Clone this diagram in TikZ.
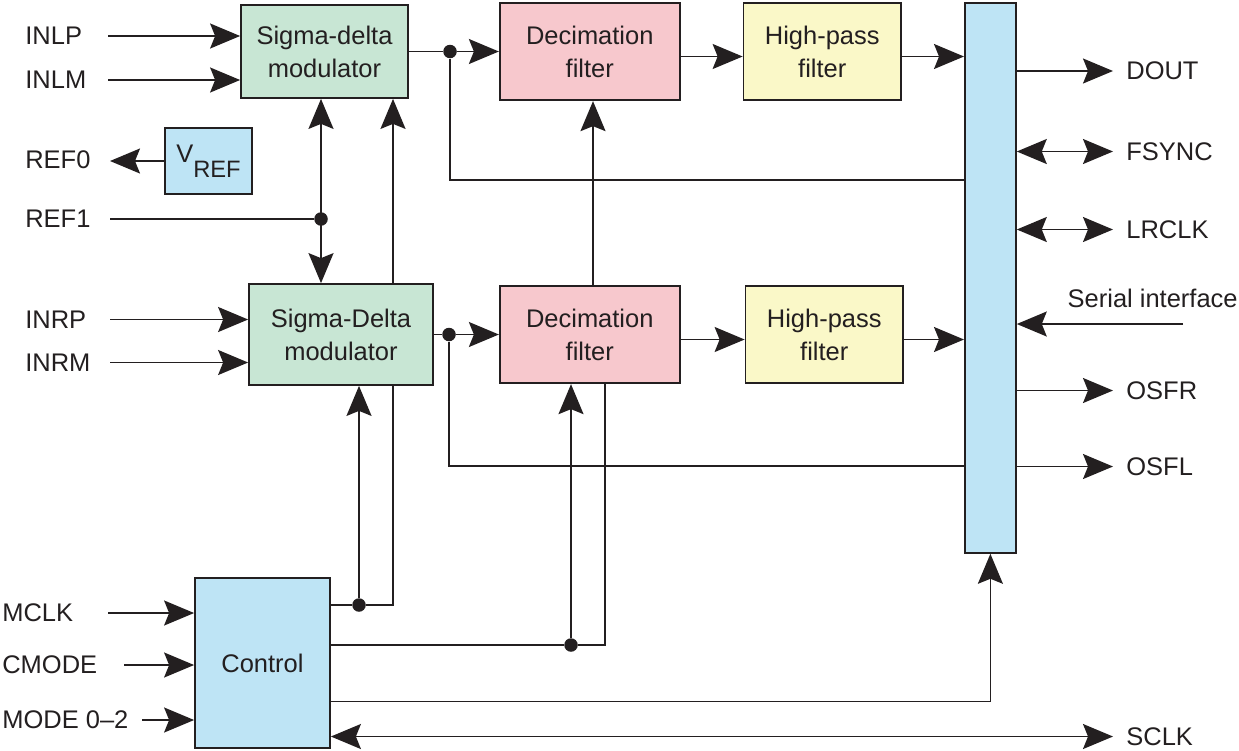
\documentclass[tikz,border=0pt]{standalone}
\usepackage{fontspec}
\setmainfont{Liberation Sans}
\usepackage{tikz}
\usetikzlibrary{arrows.meta, positioning, calc}
\definecolor{sdmgreen}{RGB}{200, 230, 212}
\definecolor{decpink}{RGB}{247, 200, 205}
\definecolor{hpyellow}{RGB}{250, 248, 200}
\definecolor{ifblue}{RGB}{190, 228, 245}
\definecolor{inkline}{RGB}{35, 31, 32}

\begin{document}
\begin{tikzpicture}[
        % --- TikZ Styles ---
        font=\fontsize{14.5}{18.8}\selectfont,
        >={Stealth[length=0.6cm, width=0.5cm, inset=0.1cm]},
        basebox/.style={
            draw=inkline, line width=1pt, align=center, inner sep=2pt,
            text=inkline
        },
        sdmbox/.style={basebox, fill=sdmgreen},
        decbox/.style={basebox, fill=decpink, minimum width=3.6cm, minimum height=1.95cm},
        hpbox/.style={basebox, fill=hpyellow, minimum width=3.15cm, minimum height=1.95cm},
        bluebox/.style={basebox, fill=ifblue},
        pin/.style={inner sep=0pt, text=inkline},
        wire/.style={line width=1pt, draw=inkline},
        thinwire/.style={line width=0.75pt, draw=inkline},
        arrow/.style={wire, ->},
        dblarrow/.style={wire, <->},
        junction/.style={circle, fill=inkline, inner sep=0pt, minimum size=0.27cm}
    ]

    \useasboundingbox (0,0) rectangle (24.78,-15);

    % --- 1. LEFT CHANNEL ---
    \node[sdmbox, minimum width=3.34cm, minimum height=1.86cm] (sdmL) at (6.49,-1.03) {Sigma-delta\\modulator};
    \node[decbox, right=1.8cm of sdmL] (decL) {Decimation\\filter};
    \node[hpbox, right=1.24cm of decL] (hpL) {High-pass\\filter};

    \node[bluebox, minimum width=1.74cm, minimum height=1.32cm] (vref) at (4.17,-3.22) {V\raisebox{-8.5pt}{\fontsize{13.5}{14}\selectfont REF}};

    % --- 2. RIGHT CHANNEL ---
    \node[sdmbox, minimum width=3.68cm, minimum height=2.02cm] (sdmR) at (6.82,-6.69) {Sigma-Delta\\modulator};
    \node[decbox, right=1.3cm of sdmR] (decR) {Decimation\\filter};
    \node[hpbox, right=1.28cm of decR] (hpR) {High-pass\\filter};

    % --- 3. INTERFACE AND CONTROL ---
    \node[bluebox, minimum width=1.02cm, minimum height=11cm, anchor=north west] (bus) at (19.28,-0.04) {};
    \node[bluebox, minimum width=2.7cm, minimum height=3.4cm] (ctrl) at (5.25,-13.26) {Control};

    % --- PINS ---
    \node[pin, anchor=west] (inlp) at (0.5,-0.72) {INLP};
    \node[pin, anchor=west] (inlm) at (0.5,-1.6) {INLM};
    \node[pin, anchor=west] (ref0) at (0.5,-3.2) {REF0};
    \node[pin, anchor=west] (ref1) at (0.5,-4.38) {REF1};
    \node[pin, anchor=west] (inrp) at (0.5,-6.39) {INRP};
    \node[pin, anchor=west] (inrm) at (0.5,-7.25) {INRM};
    \node[pin, anchor=west] (mclk) at (0.04,-12.26) {MCLK};
    \node[pin, anchor=west] (cmode) at (0.04,-13.3) {CMODE};
    \node[pin, anchor=west] (mode) at (0.04,-14.4) {MODE 0--2};

    \node[pin, anchor=west] (dout) at (22.52,-1.42) {DOUT};
    \node[pin, anchor=west] (fsync) at (22.52,-3.03) {FSYNC};
    \node[pin, anchor=west] (lrclk) at (22.52,-4.59) {LRCLK};
    \node[pin, anchor=east] (serial) at (24.76,-5.96) {Serial interface};
    \node[pin, anchor=west] (osfr) at (22.52,-7.81) {OSFR};
    \node[pin, anchor=west] (osfl) at (22.52,-9.33) {OSFL};
    \node[pin, anchor=west] (sclk) at (22.52,-14.73) {SCLK};

    % --- CONNECTIONS ---

    % Inputs to the modulators
    \draw[arrow] ([xshift=1.66cm]inlp.west) -- (sdmL.west |- inlp.west);
    \draw[arrow] ([xshift=1.66cm]inlm.west) -- (sdmL.west |- inlm.west);
    \draw[arrow] ([xshift=1.7cm]inrp.west) -- (sdmR.west |- inrp.west);
    \draw[arrow] ([xshift=1.7cm]inrm.west) -- (sdmR.west |- inrm.west);

    % Reference
    \draw[arrow] (vref.west) -- ([xshift=1.7cm]ref0.west |- vref.west);
    \coordinate (refx) at (6.42,0);
    \draw[dblarrow] (sdmL.south -| refx) -- (sdmR.north -| refx);
    \node[junction] (jref) at (6.42,-4.38) {};
    \draw[wire] ([xshift=1.7cm]ref1.west) -- (jref);

    % Signal paths, with the taps back to the interface
    \node[junction] (jL) at (9.0,-1.03) {};
    \draw[wire] (sdmL.east) -- (jL);
    \draw[arrow] (jL) -- (decL.west |- jL);
    \draw[arrow] ([yshift=-0.1cm]decL.east) -- ([yshift=-0.1cm]hpL.west);
    \draw[arrow] ([yshift=-0.1cm]hpL.east) coordinate (hpLo) -- (bus.west |- hpLo);
    \coordinate (tapL) at (19.28,-3.6);
    \draw[thinwire] (jL) |- (tapL);

    \node[junction] (jR) at (8.98,-6.69) {};
    \draw[wire] (sdmR.east) -- (jR);
    \draw[arrow] (jR) -- (decR.west |- jR);
    \draw[arrow] ([yshift=-0.1cm]decR.east) -- ([yshift=-0.1cm]hpR.west);
    \draw[arrow] ([yshift=-0.1cm]hpR.east) coordinate (hpRo) -- (bus.west |- hpRo);
    \coordinate (tapR) at (19.28,-9.32);
    \draw[thinwire] (jR) |- (tapR);

    % Control to the modulators
    \node[junction] (jc1) at (7.18,-12.1) {};
    \coordinate (modx) at (7.86,0);
    \draw[wire] (ctrl.east |- jc1) -- (jc1) -| (sdmR.south -| modx);
    \draw[arrow] (jc1) -- (sdmR.south -| jc1);
    \draw[arrow] (sdmR.north -| modx) -- (sdmL.south -| modx);

    % Control to the decimation filters
    \node[junction] (jc2) at (11.42,-12.9) {};
    \coordinate (decx) at (12.1,0);
    \draw[wire] (ctrl.east |- jc2) -- (jc2) -| (decR.south -| decx);
    \draw[arrow] (jc2) -- (decR.south -| jc2);
    \coordinate (decupx) at (11.86,0);
    \draw[arrow] (decR.north -| decupx) -- (decL.south -| decupx);

    % Control inputs and the interface
    \draw[arrow] ([xshift=2.12cm]mclk.west) -- (ctrl.west |- mclk.west);
    \draw[arrow] ([xshift=2.44cm]cmode.west) -- (ctrl.west |- cmode.west);
    \draw[arrow] ([xshift=2.8cm]mode.west) -- (ctrl.west |- mode.west);
    \draw[arrow] ([yshift=-0.77cm]ctrl.east) -| (bus.south);
    \draw[dblarrow] (ctrl.east |- sclk.west) -- ([xshift=-0.26cm]sclk.west);

    % Interface pins
    \draw[arrow] (bus.east |- dout.west) -- ([xshift=-0.26cm]dout.west);
    \draw[dblarrow] (bus.east |- fsync.west) -- ([xshift=-0.26cm]fsync.west);
    \draw[dblarrow] (bus.east |- lrclk.west) -- ([xshift=-0.26cm]lrclk.west);
    \coordinate (serin) at (23.66,-6.48);
    \draw[arrow] (serin) -- (bus.east |- serin);
    \draw[arrow] (bus.east |- osfr.west) -- ([xshift=-0.26cm]osfr.west);
    \draw[arrow] (bus.east |- osfl.west) -- ([xshift=-0.26cm]osfl.west);

    \end{tikzpicture}
\end{document}
